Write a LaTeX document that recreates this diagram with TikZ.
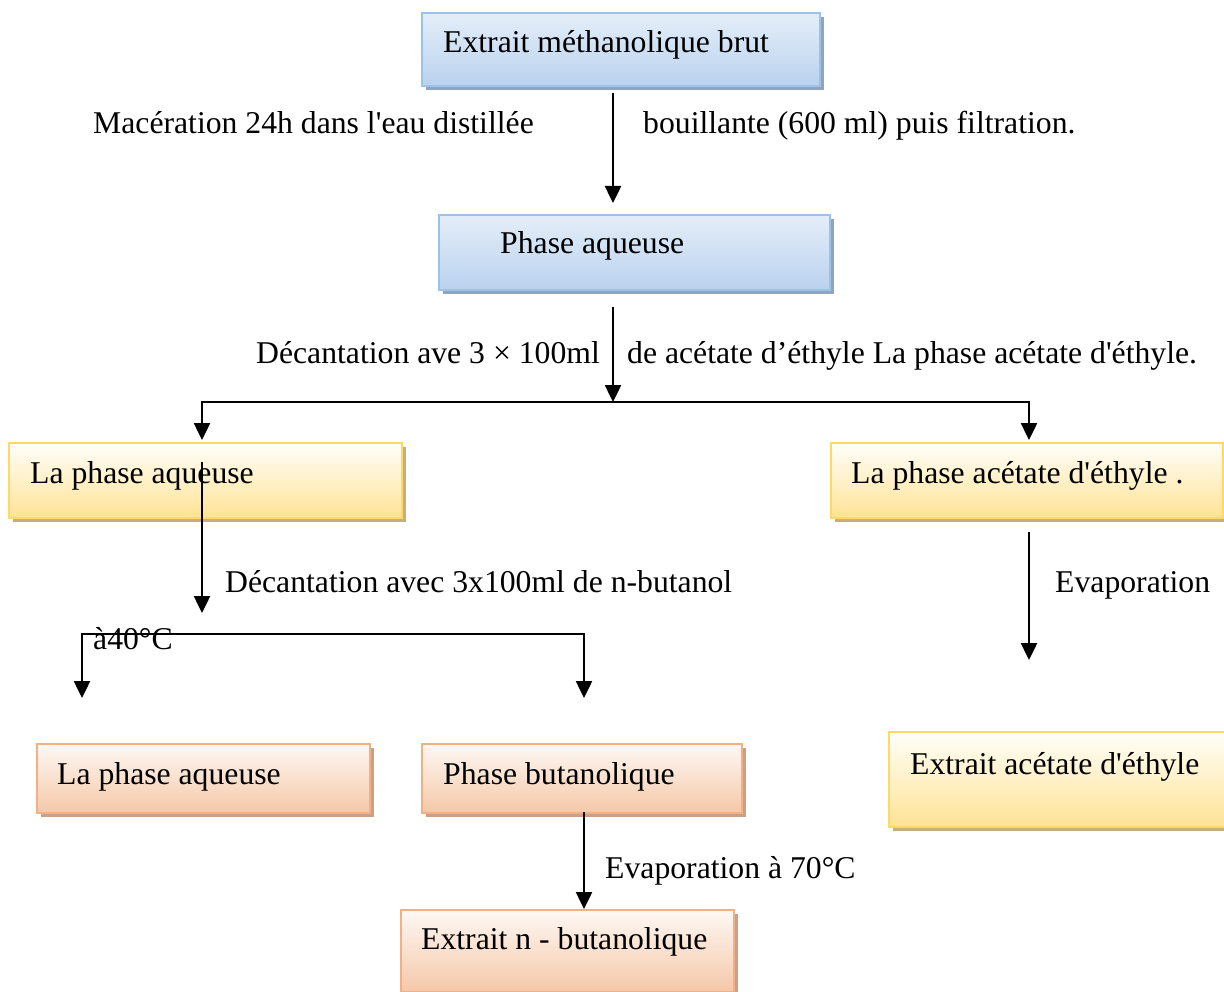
\documentclass[tikz,border=0pt]{standalone}
\usepackage{fontspec}
\setmainfont{Liberation Serif}
\usetikzlibrary{arrows.meta,shadows}
\definecolor{bluetop}{HTML}{E4EEF9}
\definecolor{bluebot}{HTML}{BAD2EE}
\definecolor{blueline}{HTML}{9CC2E8}
\definecolor{blueshad}{HTML}{8EA5BF}
\definecolor{yeltop}{HTML}{FFFEFA}
\definecolor{yelbot}{HTML}{FFE394}
\definecolor{yelline}{HTML}{FFD966}
\definecolor{yelshad}{HTML}{C4B07E}
\definecolor{ortop}{HTML}{FEF8F4}
\definecolor{orbot}{HTML}{F5C8A8}
\definecolor{orline}{HTML}{F3B083}
\definecolor{orshad}{HTML}{C9A088}
\tikzset{
  boxbase/.style={rectangle, anchor=north west, inner sep=0pt, line width=1.8pt},
  bluebox/.style={boxbase, draw=blueline, top color=bluetop, bottom color=bluebot,
    drop shadow={shadow xshift=4pt, shadow yshift=-4pt, fill=blueshad, opacity=1}},
  yelbox/.style={boxbase, draw=yelline, top color=yeltop, bottom color=yelbot,
    drop shadow={shadow xshift=4pt, shadow yshift=-4pt, fill=yelshad, opacity=1}},
  orbox/.style={boxbase, draw=orline, top color=ortop, bottom color=orbot,
    drop shadow={shadow xshift=4pt, shadow yshift=-4pt, fill=orshad, opacity=1}},
  txt/.style={anchor=base west, inner sep=0pt, font=\fontsize{31.7}{38}\selectfont},
  conn/.style={line width=2.5pt, black},
  arr/.style={conn, -{Triangle[length=17pt,width=16pt]}}
}
\begin{document}
\begin{tikzpicture}[x=1pt,y=-1pt]
\useasboundingbox (0,0) rectangle (1224,992);
\clip (0,0) rectangle (1224,992);
% boxes
\node[bluebox, minimum width=398pt, minimum height=73pt] (b1) at (421,12) {};
\node[bluebox, minimum width=391pt, minimum height=75pt] (b2) at (438,214) {};
\node[yelbox, minimum width=393pt, minimum height=75pt] (y1) at (8,442) {};
\node[yelbox, minimum width=392pt, minimum height=75pt] (y2) at (830,442) {};
\node[yelbox, minimum width=345pt, minimum height=95pt] (y3) at (888,731) {};
\node[orbox, minimum width=333pt, minimum height=69pt] (o1) at (36,743) {};
\node[orbox, minimum width=320pt, minimum height=69pt] (o2) at (421,743) {};
\node[orbox, minimum width=333pt, minimum height=82pt] (o3) at (400,909) {};
% box texts
\node[txt] (tb1) at (443,53) {Extrait méthanolique brut};
\node[txt] (tb2) at (500,254) {Phase aqueuse};
\node[txt] (ty1) at (30,483) {La phase aqueuse};
\node[txt] (ty2) at (851,483) {La phase acétate d\textquotesingle éthyle .};
\node[txt] (ty3) at (910,774) {Extrait acétate d\textquotesingle éthyle};
\node[txt] (to1) at (57,784) {La phase aqueuse};
\node[txt] (to2) at (443,784) {Phase butanolique};
\node[txt] (to3) at (421,949) {Extrait n - butanolique};
% labels
\node[txt] (l1) at (93,134) {Macération 24h dans l\textquotesingle eau distillée};
\node[txt] (l2) at (643,134) {bouillante (600 ml) puis filtration.};
\node[txt] (l3) at (256,363) {Décantation ave 3 × 100ml};
\node[txt] (l4) at (627,363) {de acétate d’éthyle La phase acétate d\textquotesingle éthyle.};
\node[txt] (l5) at (225,592) {Décantation avec 3x100ml de n-butanol};
\node[txt] (l6) at (93,649) {à40°C};
\node[txt] (l7) at (1055,592) {Evaporation};
\node[txt] (l8) at (605,878) {Evaporation à 70°C};
% connector coordinates
\coordinate (c1s) at (613,93);
\coordinate (c1e) at (613,203);
\coordinate (c2s) at (613,307);
\coordinate (c2e) at (613,402);
\coordinate (hl) at (202,402);
\coordinate (hr) at (1029,402);
\coordinate (hle) at (202,440);
\coordinate (hre) at (1029,440);
\coordinate (c3s) at (202,462);
\coordinate (c3e) at (202,613);
\coordinate (bl) at (82,634);
\coordinate (br) at (584,634);
\coordinate (ble) at (82,698);
\coordinate (bre) at (584,698);
\coordinate (c4s) at (1029,532);
\coordinate (c4e) at (1029,660);
\coordinate (c5s) at (584,812);
\coordinate (c5e) at (584,909);
% connectors
\draw[arr] (c1s) -- (c1e);
\draw[arr] (c2s) -- (c2e);
\draw[conn, line cap=rect] (hl) -- (hr);
\draw[arr] (hl) -- (hle);
\draw[arr] (hr) -- (hre);
\draw[arr] (c3s) -- (c3e);
\draw[conn, line cap=rect] (bl) -- (br);
\draw[arr] (bl) -- (ble);
\draw[arr] (br) -- (bre);
\draw[arr] (c4s) -- (c4e);
\draw[arr] (c5s) -- (c5e);
\end{tikzpicture}
\end{document}
